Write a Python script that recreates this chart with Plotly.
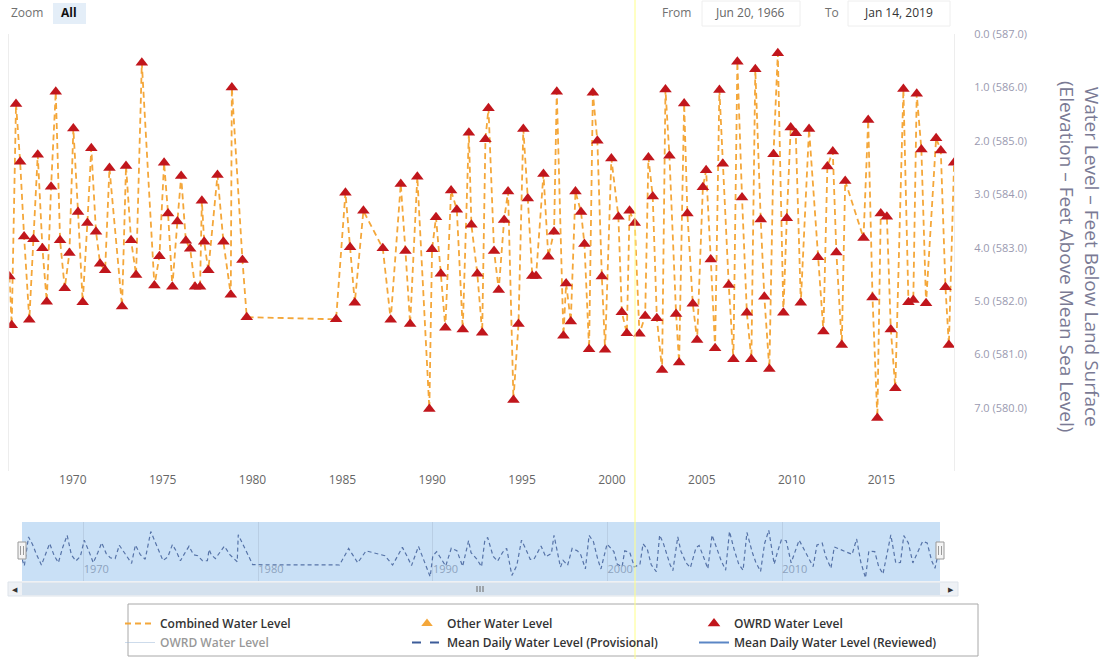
import numpy as np
import pandas as pd
import plotly.graph_objects as go

W, H = 1106, 659

# ---------------- data (decimal year, feet below land surface) ----------------
years = [
    1966.47, 1966.60, 1966.84, 1967.07, 1967.29, 1967.58, 1967.81, 1968.05, 1968.31, 1968.55,
    1968.79, 1969.05, 1969.29, 1969.55, 1969.81, 1970.03, 1970.29, 1970.55, 1970.81, 1971.03,
    1971.29, 1971.52, 1971.80, 1972.04, 1972.74, 1972.96, 1973.24, 1973.52, 1973.84, 1974.54,
    1974.82, 1975.08, 1975.30, 1975.54, 1975.82, 1976.03, 1976.29, 1976.53, 1976.80, 1977.08,
    1977.18, 1977.31, 1977.54, 1978.05, 1978.38, 1978.79, 1978.85, 1979.44, 1979.68,
    1984.65, 1985.17, 1985.43, 1985.69, 1986.17, 1987.25, 1987.69, 1988.25, 1988.51, 1988.77,
    1989.17, 1989.84, 1989.99, 1990.21, 1990.48, 1990.73, 1991.05, 1991.37, 1991.70, 1992.04,
    1992.18, 1992.51, 1992.78, 1992.96, 1993.13, 1993.44, 1993.70, 1994.00, 1994.22, 1994.52,
    1994.80, 1995.07, 1995.32, 1995.57, 1995.78, 1996.19, 1996.46, 1996.78, 1996.93, 1997.30,
    1997.45, 1997.71, 1997.97, 1998.28, 1998.47, 1998.73, 1998.94, 1999.19, 1999.44, 1999.62,
    1999.97, 2000.36, 2000.55, 2000.83, 2000.98, 2001.27, 2001.53, 2001.85, 2002.03, 2002.27,
    2002.50, 2002.79, 2002.98, 2003.20, 2003.57, 2003.74, 2004.02, 2004.20, 2004.50, 2004.74,
    2005.06, 2005.24, 2005.50, 2005.74, 2005.98, 2006.17, 2006.50, 2006.76, 2006.98, 2007.24,
    2007.51, 2007.76, 2007.98, 2008.28, 2008.48, 2008.76, 2008.99, 2009.23, 2009.54, 2009.73,
    2009.95, 2010.23, 2010.51, 2010.97, 2011.47, 2011.77, 2011.99, 2012.29, 2012.49, 2012.79,
    2012.98, 2014.00, 2014.26, 2014.50, 2014.77, 2014.96, 2015.30, 2015.52, 2015.77, 2016.22,
    2016.50, 2016.77, 2016.96, 2017.22, 2017.48, 2018.04, 2018.30, 2018.56, 2018.75, 2019.04,
]
levels = [
    4.54, 5.45, 1.31, 2.39, 3.79, 5.35, 3.84, 2.26, 4.01, 5.01,
    2.86, 1.08, 3.86, 4.76, 4.10, 1.77, 3.33, 5.02, 3.54, 2.14,
    3.70, 4.30, 4.42, 2.51, 5.10, 2.47, 3.86, 4.51, 0.54, 4.71,
    4.16, 2.41, 3.36, 4.73, 3.51, 2.66, 3.87, 4.02, 4.73, 4.73,
    3.12, 3.89, 4.42, 2.64, 3.89, 4.88, 1.00, 4.23, 5.30,
    5.34, 2.97, 3.99, 5.03, 3.31, 4.01, 5.35, 2.81, 4.06, 5.43,
    2.67, 7.02, 4.03, 3.43, 4.49, 5.50, 2.93, 3.29, 5.53, 1.85,
    3.57, 4.49, 5.59, 1.97, 1.39, 4.06, 4.79, 3.48, 2.95, 6.85,
    5.43, 1.78, 3.08, 4.53, 4.53, 2.62, 4.17, 3.70, 1.08, 5.65,
    4.67, 5.38, 2.95, 3.33, 3.93, 5.90, 1.10, 2.00, 4.54, 5.91,
    2.33, 3.42, 5.21, 5.60, 3.31, 3.54, 5.61, 5.28, 2.31, 3.04,
    5.32, 6.29, 1.04, 2.28, 5.24, 6.15, 1.30, 3.36, 5.05, 5.73,
    2.87, 2.55, 4.22, 5.88, 1.05, 2.43, 4.70, 6.09, 0.52, 3.06,
    5.22, 6.09, 0.66, 3.47, 4.92, 6.27, 2.25, 0.36, 5.22, 3.45,
    1.75, 1.86, 5.03, 1.78, 4.18, 5.57, 2.48, 2.20, 4.09, 5.82,
    2.75, 3.82, 1.61, 4.93, 7.19, 3.36, 3.42, 5.53, 6.63, 1.03,
    5.02, 4.98, 1.12, 2.16, 5.04, 1.95, 2.18, 4.74, 5.82, 2.41,
]
tick_depths = [0, 1, 2, 3, 4, 5, 6, 7]
land_surface_elev = 587.0
tick_labels = [f"{d:.1f} ({land_surface_elev - d:.1f})" for d in tick_depths]
date_from, date_to = "1966-06-20", "2019-01-14"


def to_dt(y):
    yr = int(np.floor(y))
    s = pd.Timestamp(year=yr, month=1, day=1)
    e = pd.Timestamp(year=yr + 1, month=1, day=1)
    return s + (e - s) * (y - yr)


dates = [to_dt(y) for y in years]


def px(x):
    return x / W


def py(y):
    return 1 - y / H


FONT = "Open Sans"
ORANGE = "#F4A73A"
RED = "#C1161C"

fig = go.Figure()
fig.add_trace(go.Scatter(x=dates, y=levels, mode="lines", name="Combined Water Level",
                         line=dict(color=ORANGE, width=1.8, dash="6px,4px"),
                         hoverinfo="skip"))
fig.add_trace(go.Scatter(x=[None], y=[None], mode="markers", name="Other Water Level",
                         marker=dict(symbol="triangle-up", color=ORANGE, size=10)))
fig.add_trace(go.Scatter(x=dates, y=levels, mode="markers", name="OWRD Water Level",
                         marker=dict(symbol="triangle-up", color=RED, size=11)))
fig.add_trace(go.Scatter(x=dates, y=levels, mode="lines", name="OWRD Water Level",
                         visible="legendonly", line=dict(color="#9DB8D8", width=1)))
fig.add_trace(go.Scatter(x=[None], y=[None], mode="lines",
                         name="Mean Daily Water Level (Provisional)",
                         line=dict(color="#3D5C99", width=2, dash="dash")))
fig.add_trace(go.Scatter(x=[None], y=[None], mode="lines",
                         name="Mean Daily Water Level (Reviewed)",
                         line=dict(color="#5B86C5", width=2)))
# navigator series
fig.add_trace(go.Scatter(x=dates, y=levels, mode="lines", xaxis="x2", yaxis="y2",
                         showlegend=False, hoverinfo="skip",
                         line=dict(color="#5673A8", width=1.2, dash="4px,3px")))

shapes = []
# navigator background / scrollbar
shapes.append(dict(type="rect", xref="paper", yref="paper", x0=px(22), x1=px(940),
                   y0=py(581), y1=py(522), fillcolor="#C9E0F6", line=dict(width=0),
                   layer="below"))
shapes.append(dict(type="rect", xref="paper", yref="paper", x0=px(8), x1=px(958),
                   y0=py(596), y1=py(582), fillcolor="#EEF1F5",
                   line=dict(color="#DDE3EA", width=1), layer="below"))
shapes.append(dict(type="rect", xref="paper", yref="paper", x0=px(22), x1=px(940),
                   y0=py(595), y1=py(583), fillcolor="#D4E1EE", line=dict(width=0),
                   layer="below"))
# navigator handles
for hx in (22, 940):
    shapes.append(dict(type="rect", xref="paper", yref="paper", x0=px(hx - 4), x1=px(hx + 4),
                       y0=py(559), y1=py(542), fillcolor="#F4F4F4",
                       line=dict(color="#9A9A9A", width=1)))
    for dx in (-1.5, 1.5):
        shapes.append(dict(type="line", xref="paper", yref="paper", x0=px(hx + dx), x1=px(hx + dx),
                           y0=py(555), y1=py(546), line=dict(color="#9A9A9A", width=1)))
# scrollbar grip
for gx in (477, 480, 483):
    shapes.append(dict(type="line", xref="paper", yref="paper", x0=px(gx), x1=px(gx),
                       y0=py(592), y1=py(586), line=dict(color="#666666", width=1)))
# legend box
shapes.append(dict(type="rect", xref="paper", yref="paper", x0=px(128), x1=px(978),
                   y0=py(656), y1=py(604), fillcolor="rgba(0,0,0,0)",
                   line=dict(color="#A8A8A8", width=1)))
# range selector boxes
shapes.append(dict(type="rect", xref="paper", yref="paper", x0=px(53), x1=px(86),
                   y0=py(24), y1=py(3), fillcolor="#E4EEF8", line=dict(width=0), layer="below"))
for x0, x1 in ((702, 800), (848, 950)):
    shapes.append(dict(type="rect", xref="paper", yref="paper", x0=px(x0), x1=px(x1),
                       y0=py(26), y1=py(1), fillcolor="rgba(0,0,0,0)",
                       line=dict(color="#EEEEEE", width=1), layer="below"))
# yellow vertical marker line
shapes.append(dict(type="line", xref="paper", yref="paper", x0=px(635), x1=px(635),
                   y0=0, y1=1, line=dict(color="#FFFF88", width=1)))

annotations = []


def ann(text, x, y, size=12, color="#666666", weight="normal", xanchor="center", **kw):
    annotations.append(dict(text=text, x=px(x), y=py(y), xref="paper", yref="paper",
                            showarrow=False, xanchor=xanchor, yanchor="middle",
                            font=dict(family=FONT, size=size, color=color, weight=weight), **kw))


ann("Zoom", 27, 13, size=12, color="#707070")
ann("All", 69, 13, size=12, color="#111111", weight="bold")
ann("From", 676, 13, size=12, color="#707070")
ann("Jun 20, 1966", 750, 13, size=12, color="#666666")
ann("To", 832, 13, size=12, color="#707070")
ann("Jan 14, 2019", 898, 13, size=12, color="#333333")
ann("Water Level – Feet Below Land Surface<br>(Elevation – Feet Above Mean Sea Level)",
    1080, 256, size=19, color="#7A7A94", textangle=90)
ann("◀", 15, 589, size=7, color="#333333")
ann("▶", 951, 589, size=7, color="#333333")

fig.update_layout(
    width=W, height=H,
    margin=dict(l=0, r=0, t=0, b=0, autoexpand=False),
    paper_bgcolor="white", plot_bgcolor="rgba(0,0,0,0)",
    font=dict(family=FONT, color="#333333"),
    shapes=shapes, annotations=annotations,
    hovermode=False,
    xaxis=dict(domain=[px(9.3), px(954)], range=[date_from, date_to], anchor="y",
               type="date", tickformat="%Y", dtick="M60", tick0="1970-01-01",
               showgrid=False, zeroline=False, showline=False, ticks="", automargin=False,
               tickfont=dict(size=12, color="#666666")),
    yaxis=dict(domain=[py(471), py(34)], range=[8.18, 0], anchor="x", side="right",
               tickvals=tick_depths, ticktext=tick_labels, showgrid=False, zeroline=False,
               showline=True, mirror=True, linecolor="#EDEDED", linewidth=1,
               ticks="", ticklabelstandoff=17, automargin=False,
               tickfont=dict(size=11, color="#9A9AB0")),
    xaxis2=dict(domain=[px(22), px(940)], range=[date_from, date_to], anchor="y2",
                type="date", tickformat="%Y", dtick="M120", tick0="1970-01-01",
                ticklabelposition="inside right", showgrid=True, gridcolor="#B9CEE4",
                zeroline=False, showline=False, ticks="", automargin=False,
                tickfont=dict(size=11, color="#8DA3BE")),
    yaxis2=dict(domain=[py(581), py(522)], range=[7.64, -0.83], anchor="x2", visible=False),
    legend=dict(orientation="h", x=px(120), xanchor="left", y=py(609), yanchor="top",
                entrywidth=242, bgcolor="rgba(0,0,0,0)", tracegroupgap=0,
                font=dict(family=FONT, size=12, color="#333333", weight=600)),
    showlegend=True,
)

fig.write_html("out.html", config={"displayModeBar": False},
               post_script="document.body.style.margin='0';")
